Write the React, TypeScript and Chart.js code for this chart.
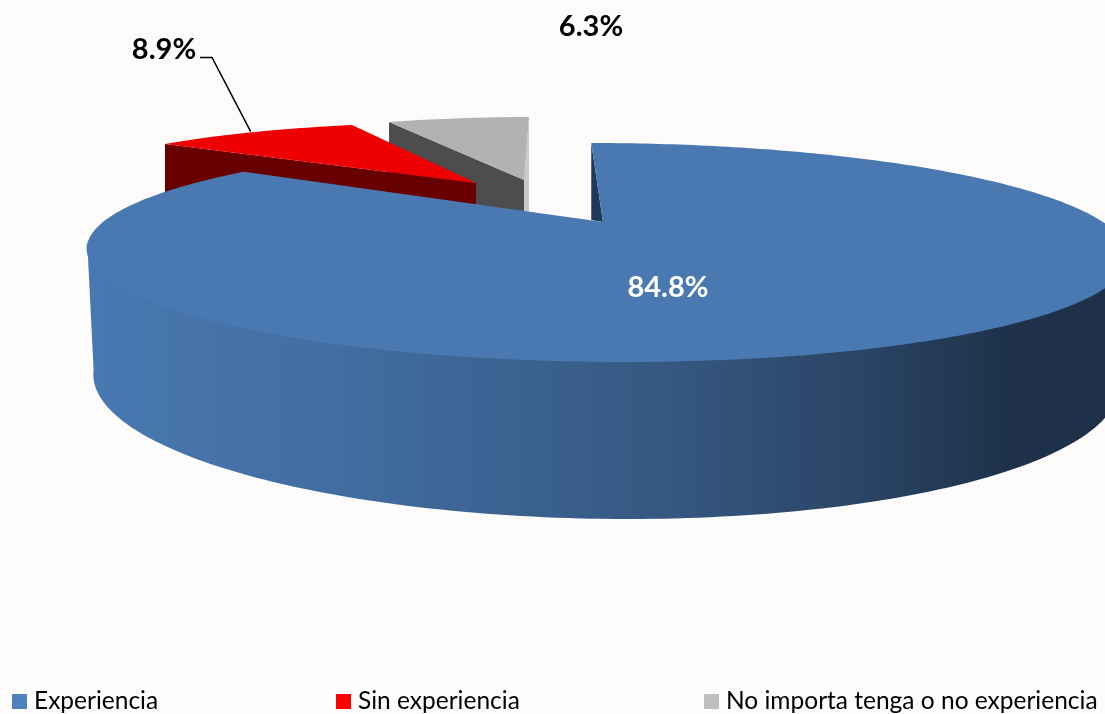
import React, { useEffect, useRef } from "react";
import { Chart, registerables } from "chart.js";

Chart.register(...registerables);

// ---- data ----
const categories = ["Experiencia", "Sin experiencia", "No importa tenga o no experiencia"];
const shares = [84.8, 8.9, 6.3];
const legendColors = ["#4F81BD", "#FF0000", "#BFBFBF"];

// ---- look ----
const WIDTH = 1105;
const HEIGHT = 714;
const BACKGROUND = "#FDFCFA";
const TEXT_FONT = "Lato";

type View = { ox: number; oy: number; a: number; b: number; c: number; d: number; p: number };

// Projective views of the unit disc for each slice (camera tilt + explode offset)
const topViews: View[] = [
  { ox: 603, oy: 222, a: 500, b: 0, c: 15, d: 101, p: 0.2785 },
  { ox: 476, oy: 183, a: 405.9, b: 4.7, c: -35.2, d: 60.9, p: 0 },
  { ox: 524, oy: 180, a: 362.1, b: -0.3, c: -5, d: 63, p: 0 },
];
const floorView: View = { ox: 600, oy: 341.6, a: 492, b: 0, c: 20, d: 128, p: 0.2785 };

const topColors = ["#4A79B2", "#EE0000", "#B2B2B2"];
const wallColors = ["", "#680000", "#4D4D4D"];
const endFaceColors = ["#1D3A5A", "", "#C9C9C9"];
const wallDepths = [0, 60, 65];
const labelAnchors = [
  { x: 668, y: 288, color: "#FFFFFF" },
  { x: 164, y: 50, color: "#000000" },
  { x: 591, y: 27, color: "#000000" },
];
const legendX = [12, 336, 704];

function project(view: View, angle: number) {
  const u = Math.cos(angle);
  const v = Math.sin(angle);
  const w = 1 - view.p * v;
  return {
    x: view.ox + (view.a * u + view.c * v) / w,
    y: view.oy + (view.b * u + view.d * v) / w,
  };
}

function tracePoints(ctx: CanvasRenderingContext2D, pts: { x: number; y: number }[]) {
  ctx.beginPath();
  pts.forEach((p, i) => (i ? ctx.lineTo(p.x, p.y) : ctx.moveTo(p.x, p.y)));
  ctx.closePath();
}

function arcPoints(view: View, start: number, end: number) {
  const n = Math.max(8, Math.ceil(((end - start) * 180) / Math.PI));
  const pts = [];
  for (let i = 0; i <= n; i++) pts.push(project(view, start + ((end - start) * i) / n));
  return pts;
}

const tiltedPie = {
  id: "tiltedPie",
  beforeDatasetsDraw(chart: any) {
    const ctx: CanvasRenderingContext2D = chart.ctx;
    const arcs = chart.getDatasetMeta(0).data;
    ctx.save();
    // exploded slices, furthest first
    [2, 1].forEach((i) => {
      const { startAngle, endAngle } = arcs[i];
      const view = topViews[i];
      const o = { x: view.ox, y: view.oy };
      const p1 = project(view, startAngle);
      const p2 = project(view, endAngle);
      const depth = wallDepths[i];
      ctx.fillStyle = wallColors[i];
      tracePoints(ctx, [p1, o, { x: o.x, y: o.y + depth }, { x: p1.x, y: p1.y + depth }]);
      ctx.fill();
      if (endFaceColors[i]) {
        ctx.fillStyle = endFaceColors[i];
        tracePoints(ctx, [p2, o, { x: o.x, y: o.y + depth }, { x: p2.x, y: o.y + depth }]);
        ctx.fill();
      }
      ctx.fillStyle = topColors[i];
      tracePoints(ctx, [o, ...arcPoints(view, startAngle, endAngle)]);
      ctx.fill();
    });

    // main slice: wall between the two silhouette tangents, cut face, top
    const main = arcs[0];
    const view = topViews[0];
    const frontStart = Math.max(main.startAngle, (12 * Math.PI) / 180);
    const frontEnd = Math.min(main.endAngle, (168 * Math.PI) / 180);
    const grad = ctx.createLinearGradient(100, 0, 1010, 0);
    grad.addColorStop(0, "#4878B0");
    grad.addColorStop(0.285, "#416C9F");
    grad.addColorStop(0.59, "#375A85");
    grad.addColorStop(0.835, "#2A4566");
    grad.addColorStop(1, "#1E3149");
    ctx.fillStyle = grad;
    // the wall's upper edge tucks under the top face so no seam shows
    tracePoints(ctx, [
      ...arcPoints(view, frontStart, frontEnd).map((p) => ({ x: p.x, y: p.y - 3 })),
      ...arcPoints(floorView, frontStart, frontEnd).reverse(),
    ]);
    ctx.fill();

    const centre = { x: view.ox, y: view.oy };
    const startPoint = project(view, main.startAngle);
    ctx.fillStyle = endFaceColors[0];
    tracePoints(ctx, [startPoint, centre, { x: startPoint.x, y: centre.y - 2 }]);
    ctx.fill();

    ctx.fillStyle = topColors[0];
    tracePoints(ctx, [centre, ...arcPoints(view, main.startAngle, main.endAngle)]);
    ctx.fill();
    ctx.restore();
    return false;
  },
  afterDraw(chart: any) {
    const ctx: CanvasRenderingContext2D = chart.ctx;
    const arcs = chart.getDatasetMeta(0).data;
    const values: number[] = chart.data.datasets[0].data;
    ctx.save();

    // leader line of the red slice
    const red = arcs[1];
    const tip = project(topViews[1], (red.startAngle + red.endAngle) / 2);
    ctx.strokeStyle = "#000000";
    ctx.lineWidth = 1.5;
    ctx.beginPath();
    ctx.moveTo(200, 57.5);
    ctx.lineTo(212, 57.5);
    ctx.lineTo(tip.x + 1, tip.y - 1);
    ctx.stroke();

    // value labels
    ctx.font = `bold 29px ${TEXT_FONT}`;
    ctx.textAlign = "center";
    ctx.textBaseline = "middle";
    values.forEach((value, i) => {
      ctx.fillStyle = labelAnchors[i].color;
      ctx.fillText(`${value.toFixed(1)}%`, labelAnchors[i].x, labelAnchors[i].y);
    });

    // legend
    ctx.font = `24.5px ${TEXT_FONT}`;
    ctx.textAlign = "left";
    ctx.textBaseline = "alphabetic";
    (chart.data.labels as string[]).forEach((label, i) => {
      ctx.fillStyle = legendColors[i];
      ctx.fillRect(legendX[i], 694, 15, 15);
      ctx.fillStyle = "#000000";
      ctx.fillText(label, legendX[i] + 22, 709);
    });
    ctx.restore();
  },
};

export default function App() {
  const ref = useRef<HTMLCanvasElement>(null);
  useEffect(() => {
    document.body.style.margin = "0";
    document.body.style.background = BACKGROUND;
    const chart = new Chart(ref.current as HTMLCanvasElement, {
      type: "pie",
      data: {
        labels: categories,
        datasets: [{ data: shares, backgroundColor: legendColors, borderWidth: 0 }],
      },
      options: {
        animation: false,
        responsive: false,
        rotation: 0,
        plugins: { legend: { display: false }, tooltip: { enabled: false } },
      },
      plugins: [tiltedPie],
    } as any);
    return () => chart.destroy();
  }, []);
  return (
    <canvas
      ref={ref}
      width={WIDTH}
      height={HEIGHT}
      style={{ display: "block", width: WIDTH, height: HEIGHT, background: BACKGROUND }}
    />
  );
}
